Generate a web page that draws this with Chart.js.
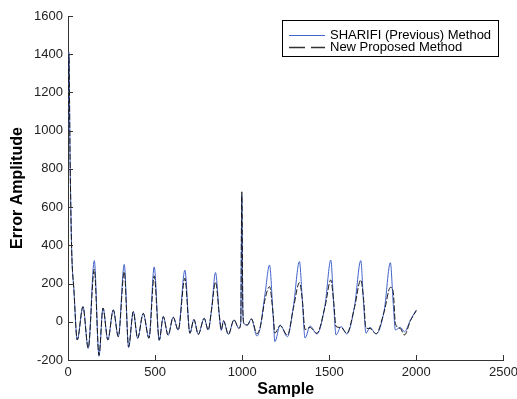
<!DOCTYPE html>
<html>
<head>
<meta charset="utf-8">
<script src="https://cdn.jsdelivr.net/npm/chart.js@4/dist/chart.umd.min.js"></script>
<style>
html,body{margin:0;padding:0;background:#fff;}
#wrap{width:517px;height:399px;position:relative;}
</style>
</head>
<body>
<div id="wrap"><canvas id="c"></canvas></div>
<script>
// ---- data ----
const samples = [0, 5, 12, 21, 34, 53, 86, 116, 151, 178, 201, 229, 260, 289, 323, 348, 375, 400, 432, 465, 495, 524, 547, 575, 604, 633, 671, 700, 723, 748, 782, 805, 824, 847, 870, 880, 893, 921, 953, 981, 992, 998, 1004, 1011, 1030, 1053, 1085, 1103, 1132, 1157, 1178, 1188, 1218, 1260, 1294, 1329, 1345, 1361, 1390, 1429, 1476, 1509, 1525, 1539, 1568, 1601, 1645, 1681, 1697, 1711, 1734, 1769, 1816, 1851, 1867, 1880, 1908, 1932, 1966, 2000];

const sharifi = [1000, 1410, 850, 380, 166, -95, 79, -139, 320, -180, 72, -95, 62, -78, 300, -135, 53, -86, 44, -86, 287, -98, 27, -70, 24, -43, 270, -60, 12, -66, 18, -43, 62, 258, 20, -45, 5, -66, 10, -34, -5, 665, 60, -10, -17, 15, -75, -33, 150, 297, 27, -104, -17, -78, 79, 315, 120, -85, -22, -64, 88, 323, 100, -69, -25, -64, 79, 320, 100, -60, -29, -64, 62, 309, 100, -43, -29, -52, 9, 62];

const proposed = [1000, 1400, 850, 380, 166, -95, 79, -137, 275, -175, 72, -95, 62, -78, 262, -130, 53, -86, 44, -86, 240, -95, 27, -70, 24, -43, 228, -60, 12, -66, 18, -43, 62, 208, 25, -42, 5, -66, 10, -34, -5, 680, 60, -10, -17, 15, -62, -30, 120, 184, 40, -59, -20, -70, 70, 205, 120, -40, -30, -60, 80, 219, 110, -25, -30, -60, 75, 219, 120, -33, -35, -62, 55, 180, 160, -10, -35, -69, 5, 58];

const xTickValues = [0, 500, 1000, 1500, 2000, 2500];
const yTickValues = [-200, 0, 200, 400, 600, 800, 1000, 1200, 1400, 1600];

const seriesNames = ['SHARIFI (Previous) Method', 'New Proposed Method'];
const BLUE = '#4263c9';
const BLACK = '#1a1a1a';
const FONT = "'Liberation Sans', Arial, Helvetica, sans-serif";

const toPts = (vals) => samples.map((x, i) => ({x: x, y: vals[i]}));

const inwardTicks = {
  id: 'inwardTicks',
  afterDraw(chart) {
    const ctx = chart.ctx;
    const xs = chart.scales.x, ys = chart.scales.y;
    const area = chart.chartArea;
    ctx.save();
    ctx.strokeStyle = '#333';
    ctx.lineWidth = 1;
    ctx.beginPath();
    xTickValues.forEach(v => {
      const px = Math.round(xs.getPixelForValue(v)) + 0.5;
      ctx.moveTo(px, area.bottom);
      ctx.lineTo(px, area.bottom - 5);
    });
    yTickValues.forEach(v => {
      const py = Math.round(ys.getPixelForValue(v)) + 0.5;
      ctx.moveTo(area.left, py);
      ctx.lineTo(area.left + 5, py);
    });
    ctx.stroke();

    // legend box
    const bx = 282.5, by = 20.5, bw = 216, bh = 36;
    ctx.fillStyle = '#fff';
    ctx.fillRect(bx, by, bw, bh);
    ctx.strokeStyle = '#000';
    ctx.strokeRect(bx, by, bw, bh);
    ctx.lineWidth = 1;
    ctx.strokeStyle = BLUE;
    ctx.beginPath();
    ctx.moveTo(289, 35.5); ctx.lineTo(325, 35.5);
    ctx.stroke();
    ctx.strokeStyle = '#333';
    ctx.lineWidth = 1.3;
    ctx.beginPath();
    ctx.moveTo(289, 47.5); ctx.lineTo(305, 47.5);
    ctx.moveTo(311, 47.5); ctx.lineTo(325, 47.5);
    ctx.stroke();
    ctx.fillStyle = '#000';
    ctx.font = '13px ' + FONT;
    ctx.textBaseline = 'middle';
    ctx.textAlign = 'left';
    ctx.fillText(seriesNames[0], 330, 35.5);
    ctx.fillText(seriesNames[1], 330, 47.5);
    ctx.restore();
  }
};

new Chart(document.getElementById('c'), {
  type: 'line',
  data: {
    datasets: [
      {label: seriesNames[0], data: toPts(sharifi), borderColor: BLUE, borderWidth: 1,
       pointRadius: 0, cubicInterpolationMode: 'monotone', order: 2},
      {label: seriesNames[1], data: toPts(proposed), borderColor: BLACK, borderWidth: 1,
       borderDash: [6, 2], pointRadius: 0, cubicInterpolationMode: 'monotone', order: 1}
    ]
  },
  options: {
    animation: false,
    responsive: true,
    maintainAspectRatio: false,
    layout: {padding: {left: 0, top: 16, right: 0, bottom: 0}},
    plugins: {legend: {display: false}, tooltip: {enabled: false}},
    scales: {
      x: {
        type: 'linear', min: 0, max: 2500,
        afterBuildTicks(s) { s.ticks = xTickValues.map(v => ({value: v})); },
        afterFit(s) { s.height = 39; s.paddingRight = 13.6; s.paddingLeft = 0; },
        ticks: {color: '#222', font: {family: FONT, size: 13}, padding: 5, maxRotation: 0, autoSkip: false,
                callback: v => String(v)},
        grid: {drawOnChartArea: false, drawTicks: false},
        border: {color: '#333'},
        title: {display: true, text: 'Sample', color: '#000',
                font: {family: FONT, size: 16, weight: 'bold'}, padding: {top: 0, bottom: 0}}
      },
      y: {
        type: 'linear', min: -200, max: 1600,
        afterBuildTicks(s) { s.ticks = yTickValues.map(v => ({value: v})); },
        afterFit(s) { s.width = 68; },
        ticks: {color: '#222', font: {family: FONT, size: 13}, padding: 5, autoSkip: false,
                callback: v => String(v)},
        grid: {drawOnChartArea: false, drawTicks: false},
        border: {color: '#333'},
        title: {display: true, text: 'Error Amplitude', color: '#000',
                font: {family: FONT, size: 16, weight: 'bold'}, padding: {top: 8, bottom: 0}}
      }
    }
  },
  plugins: [inwardTicks]
});
</script>
</body>
</html>
